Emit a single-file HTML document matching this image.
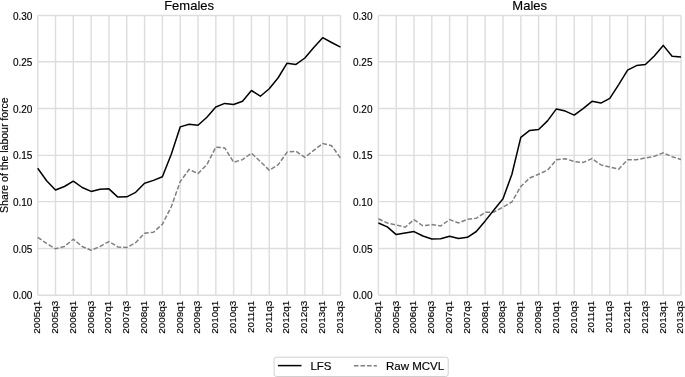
<!DOCTYPE html>
<html><head><meta charset="utf-8"><style>
html,body{margin:0;padding:0;background:#fff;}
body{width:685px;height:377px;overflow:hidden;}
svg{display:block;will-change:transform;}
text{font-family:"Liberation Sans",sans-serif;fill:#000;stroke:#000;stroke-width:0.15px;}
.g{stroke:#dddddd;stroke-width:1.4;fill:none;}
.l{stroke:#000;stroke-width:1.5;fill:none;stroke-linejoin:round;}
.m{stroke:#808080;stroke-width:1.5;fill:none;stroke-dasharray:4.6 1.985;}
.yt{font-size:10px;text-anchor:end;}
.xt{font-size:9.9px;text-anchor:end;}
.ti{font-size:13px;text-anchor:middle;}
.lg{font-size:11.5px;}
</style></head><body>
<svg width="685" height="377" viewBox="0 0 685 377">
<rect width="685" height="377" fill="#fff"/>
<line x1="37.70" y1="15.5" x2="37.70" y2="295.2" class="g"/>
<line x1="55.51" y1="15.5" x2="55.51" y2="295.2" class="g"/>
<line x1="73.32" y1="15.5" x2="73.32" y2="295.2" class="g"/>
<line x1="91.14" y1="15.5" x2="91.14" y2="295.2" class="g"/>
<line x1="108.95" y1="15.5" x2="108.95" y2="295.2" class="g"/>
<line x1="126.76" y1="15.5" x2="126.76" y2="295.2" class="g"/>
<line x1="144.57" y1="15.5" x2="144.57" y2="295.2" class="g"/>
<line x1="162.38" y1="15.5" x2="162.38" y2="295.2" class="g"/>
<line x1="180.19" y1="15.5" x2="180.19" y2="295.2" class="g"/>
<line x1="198.01" y1="15.5" x2="198.01" y2="295.2" class="g"/>
<line x1="215.82" y1="15.5" x2="215.82" y2="295.2" class="g"/>
<line x1="233.63" y1="15.5" x2="233.63" y2="295.2" class="g"/>
<line x1="251.44" y1="15.5" x2="251.44" y2="295.2" class="g"/>
<line x1="269.25" y1="15.5" x2="269.25" y2="295.2" class="g"/>
<line x1="287.06" y1="15.5" x2="287.06" y2="295.2" class="g"/>
<line x1="304.88" y1="15.5" x2="304.88" y2="295.2" class="g"/>
<line x1="322.69" y1="15.5" x2="322.69" y2="295.2" class="g"/>
<line x1="340.50" y1="15.5" x2="340.50" y2="295.2" class="g"/>
<line x1="37.7" y1="295.2" x2="340.5" y2="295.2" class="g"/>
<line x1="37.7" y1="248.5" x2="340.5" y2="248.5" class="g"/>
<line x1="37.7" y1="201.6" x2="340.5" y2="201.6" class="g"/>
<line x1="37.7" y1="155.4" x2="340.5" y2="155.4" class="g"/>
<line x1="37.7" y1="108.5" x2="340.5" y2="108.5" class="g"/>
<line x1="37.7" y1="61.7" x2="340.5" y2="61.7" class="g"/>
<line x1="37.7" y1="15.5" x2="340.5" y2="15.5" class="g"/>
<polyline points="37.70,237.30 46.61,243.40 55.51,248.80 64.42,246.50 73.32,239.20 82.23,246.50 91.14,250.30 100.04,246.50 108.95,241.50 117.85,246.90 126.76,247.60 135.66,242.70 144.57,233.20 153.48,232.20 162.38,224.20 171.29,206.80 180.19,181.60 189.10,169.50 198.01,173.50 206.91,164.60 215.82,147.10 224.72,147.90 233.63,162.20 242.54,159.60 251.44,153.20 260.35,161.50 269.25,170.20 278.16,164.80 287.06,152.10 295.97,151.30 304.88,157.40 313.78,150.30 322.69,143.50 331.59,145.70 340.50,158.00" class="m"/>
<polyline points="37.70,168.30 46.61,180.80 55.51,190.00 64.42,186.50 73.32,181.20 82.23,187.50 91.14,191.40 100.04,189.20 108.95,188.85 117.85,197.10 126.76,196.80 135.66,192.35 144.57,183.20 153.48,180.40 162.38,176.70 171.29,154.20 180.19,126.90 189.10,124.30 198.01,125.30 206.91,117.20 215.82,107.06 224.72,103.40 233.63,104.50 242.54,101.25 251.44,90.50 260.35,96.20 269.25,88.70 278.16,77.75 287.06,63.20 295.97,64.40 304.88,58.00 313.78,47.60 322.69,37.70 331.59,42.50 340.50,47.20" class="l"/>
<text x="32.4" y="299.20" class="yt">0.00</text>
<text x="32.4" y="252.50" class="yt">0.05</text>
<text x="32.4" y="205.60" class="yt">0.10</text>
<text x="32.4" y="159.40" class="yt">0.15</text>
<text x="32.4" y="112.50" class="yt">0.20</text>
<text x="32.4" y="65.70" class="yt">0.25</text>
<text x="32.4" y="19.50" class="yt">0.30</text>
<text transform="translate(40.10,300.85) rotate(-90)" class="xt">2005q1</text>
<text transform="translate(57.91,300.85) rotate(-90)" class="xt">2005q3</text>
<text transform="translate(75.72,300.85) rotate(-90)" class="xt">2006q1</text>
<text transform="translate(93.54,300.85) rotate(-90)" class="xt">2006q3</text>
<text transform="translate(111.35,300.85) rotate(-90)" class="xt">2007q1</text>
<text transform="translate(129.16,300.85) rotate(-90)" class="xt">2007q3</text>
<text transform="translate(146.97,300.85) rotate(-90)" class="xt">2008q1</text>
<text transform="translate(164.78,300.85) rotate(-90)" class="xt">2008q3</text>
<text transform="translate(182.59,300.85) rotate(-90)" class="xt">2009q1</text>
<text transform="translate(200.41,300.85) rotate(-90)" class="xt">2009q3</text>
<text transform="translate(218.22,300.85) rotate(-90)" class="xt">2010q1</text>
<text transform="translate(236.03,300.85) rotate(-90)" class="xt">2010q3</text>
<text transform="translate(253.84,300.85) rotate(-90)" class="xt">2011q1</text>
<text transform="translate(271.65,300.85) rotate(-90)" class="xt">2011q3</text>
<text transform="translate(289.46,300.85) rotate(-90)" class="xt">2012q1</text>
<text transform="translate(307.28,300.85) rotate(-90)" class="xt">2012q3</text>
<text transform="translate(325.09,300.85) rotate(-90)" class="xt">2013q1</text>
<text transform="translate(342.90,300.85) rotate(-90)" class="xt">2013q3</text>
<text x="189.10" y="10.1" class="ti">Females</text>
<line x1="378.40" y1="15.5" x2="378.40" y2="295.2" class="g"/>
<line x1="396.20" y1="15.5" x2="396.20" y2="295.2" class="g"/>
<line x1="414.00" y1="15.5" x2="414.00" y2="295.2" class="g"/>
<line x1="431.80" y1="15.5" x2="431.80" y2="295.2" class="g"/>
<line x1="449.60" y1="15.5" x2="449.60" y2="295.2" class="g"/>
<line x1="467.40" y1="15.5" x2="467.40" y2="295.2" class="g"/>
<line x1="485.20" y1="15.5" x2="485.20" y2="295.2" class="g"/>
<line x1="503.00" y1="15.5" x2="503.00" y2="295.2" class="g"/>
<line x1="520.80" y1="15.5" x2="520.80" y2="295.2" class="g"/>
<line x1="538.60" y1="15.5" x2="538.60" y2="295.2" class="g"/>
<line x1="556.40" y1="15.5" x2="556.40" y2="295.2" class="g"/>
<line x1="574.20" y1="15.5" x2="574.20" y2="295.2" class="g"/>
<line x1="592.00" y1="15.5" x2="592.00" y2="295.2" class="g"/>
<line x1="609.80" y1="15.5" x2="609.80" y2="295.2" class="g"/>
<line x1="627.60" y1="15.5" x2="627.60" y2="295.2" class="g"/>
<line x1="645.40" y1="15.5" x2="645.40" y2="295.2" class="g"/>
<line x1="663.20" y1="15.5" x2="663.20" y2="295.2" class="g"/>
<line x1="681.00" y1="15.5" x2="681.00" y2="295.2" class="g"/>
<line x1="378.4" y1="295.2" x2="681.0" y2="295.2" class="g"/>
<line x1="378.4" y1="248.5" x2="681.0" y2="248.5" class="g"/>
<line x1="378.4" y1="201.6" x2="681.0" y2="201.6" class="g"/>
<line x1="378.4" y1="155.4" x2="681.0" y2="155.4" class="g"/>
<line x1="378.4" y1="108.5" x2="681.0" y2="108.5" class="g"/>
<line x1="378.4" y1="61.7" x2="681.0" y2="61.7" class="g"/>
<line x1="378.4" y1="15.5" x2="681.0" y2="15.5" class="g"/>
<polyline points="378.40,218.80 387.30,223.00 396.20,224.90 405.10,227.20 414.00,219.70 422.90,225.80 431.80,224.60 440.70,225.90 449.60,219.60 458.50,223.00 467.40,219.30 476.30,218.30 485.20,212.30 494.10,212.00 503.00,207.00 511.90,202.00 520.80,186.50 529.70,178.00 538.60,174.20 547.50,170.20 556.40,159.70 565.30,158.70 574.20,161.50 583.10,162.50 592.00,158.60 600.90,164.90 609.80,167.00 618.70,169.20 627.60,159.80 636.50,159.70 645.40,158.00 654.30,156.40 663.20,152.80 672.10,156.70 681.00,159.50" class="m"/>
<polyline points="378.40,223.00 387.30,226.90 396.20,234.60 405.10,233.00 414.00,231.60 422.90,236.00 431.80,239.00 440.70,238.70 449.60,236.30 458.50,238.40 467.40,237.30 476.30,231.50 485.20,220.90 494.10,209.70 503.00,198.80 511.90,174.30 520.80,137.40 529.70,130.40 538.60,129.50 547.50,120.90 556.40,108.90 565.30,111.10 574.20,115.10 583.10,108.60 592.00,101.30 600.90,103.10 609.80,98.40 618.70,84.60 627.60,70.10 636.50,65.60 645.40,64.50 654.30,56.00 663.20,45.40 672.10,56.30 681.00,57.10" class="l"/>
<text x="372.5" y="299.20" class="yt">0.00</text>
<text x="372.5" y="252.50" class="yt">0.05</text>
<text x="372.5" y="205.60" class="yt">0.10</text>
<text x="372.5" y="159.40" class="yt">0.15</text>
<text x="372.5" y="112.50" class="yt">0.20</text>
<text x="372.5" y="65.70" class="yt">0.25</text>
<text x="372.5" y="19.50" class="yt">0.30</text>
<text transform="translate(380.80,300.85) rotate(-90)" class="xt">2005q1</text>
<text transform="translate(398.60,300.85) rotate(-90)" class="xt">2005q3</text>
<text transform="translate(416.40,300.85) rotate(-90)" class="xt">2006q1</text>
<text transform="translate(434.20,300.85) rotate(-90)" class="xt">2006q3</text>
<text transform="translate(452.00,300.85) rotate(-90)" class="xt">2007q1</text>
<text transform="translate(469.80,300.85) rotate(-90)" class="xt">2007q3</text>
<text transform="translate(487.60,300.85) rotate(-90)" class="xt">2008q1</text>
<text transform="translate(505.40,300.85) rotate(-90)" class="xt">2008q3</text>
<text transform="translate(523.20,300.85) rotate(-90)" class="xt">2009q1</text>
<text transform="translate(541.00,300.85) rotate(-90)" class="xt">2009q3</text>
<text transform="translate(558.80,300.85) rotate(-90)" class="xt">2010q1</text>
<text transform="translate(576.60,300.85) rotate(-90)" class="xt">2010q3</text>
<text transform="translate(594.40,300.85) rotate(-90)" class="xt">2011q1</text>
<text transform="translate(612.20,300.85) rotate(-90)" class="xt">2011q3</text>
<text transform="translate(630.00,300.85) rotate(-90)" class="xt">2012q1</text>
<text transform="translate(647.80,300.85) rotate(-90)" class="xt">2012q3</text>
<text transform="translate(665.60,300.85) rotate(-90)" class="xt">2013q1</text>
<text transform="translate(683.40,300.85) rotate(-90)" class="xt">2013q3</text>
<text x="529.70" y="10.1" class="ti">Males</text>
<text transform="translate(7.7,155.1) rotate(-90)" style="font-size:10.5px;text-anchor:middle;">Share of the labour force</text>
<rect x="274.1" y="357.2" width="174.1" height="19.3" rx="2.5" ry="2.5" fill="#fff" stroke="#d0d0d0" stroke-width="1"/>
<line x1="277.9" y1="365.6" x2="301.5" y2="365.6" class="l"/>
<text x="310.4" y="369.5" class="lg">LFS</text>
<line x1="353.9" y1="365.8" x2="376.9" y2="365.8" class="m"/>
<text x="386.0" y="369.5" class="lg">Raw MCVL</text>
</svg>
</body></html>
